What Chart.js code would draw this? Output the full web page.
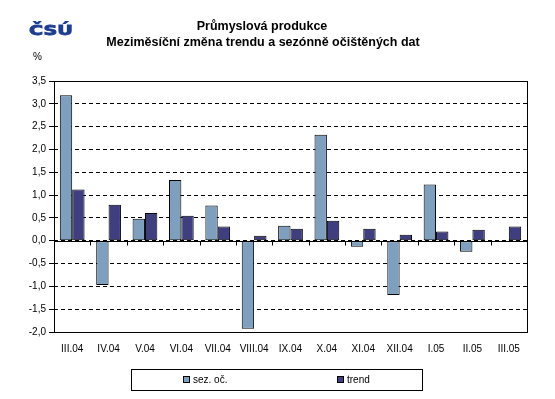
<!DOCTYPE html>
<html>
<head>
<meta charset="utf-8">
<script src="https://cdn.jsdelivr.net/npm/chart.js@4"></script>
<style>
  html, body { margin: 0; padding: 0; background: #fff; }
  #wrap { width: 555px; height: 399px; }
</style>
</head>
<body>
<div id="wrap"><canvas id="graf" width="555" height="399"></canvas></div>
<script>
const mesice = ['III.04', 'IV.04', 'V.04', 'VI.04', 'VII.04', 'VIII.04', 'IX.04', 'X.04', 'XI.04', 'XII.04', 'I.05', 'II.05', 'III.05'];
const sezOc = [3.19, -0.97, 0.48, 1.33, 0.77, -1.93, 0.33, 2.32, -0.13, -1.19, 1.23, -0.24, -0.02];
const trend = [1.12, 0.79, 0.61, 0.55, 0.31, 0.11, 0.26, 0.44, 0.26, 0.13, 0.20, 0.24, 0.31];
const nazvy = ['sez. oč.', 'trend'];
const titulek = ['Průmyslová produkce', 'Meziměsíční změna trendu a sezónně očištěných dat'];

const pismo = '"Liberation Sans", Arial, sans-serif';

// ramecek, nulova osa, popisky a legenda
const kresba = {
  id: 'kresba',
  afterDraw(chart) {
    const ctx = chart.ctx;
    const a = chart.chartArea;
    const x = chart.scales.x;
    const y = chart.scales.y;
    ctx.save();

    // logo
    ctx.fillStyle = '#1f3d8f';
    ctx.strokeStyle = '#1f3d8f';
    ctx.lineWidth = 1;
    ctx.font = 'bold 16px "DejaVu Sans", sans-serif';
    ctx.textBaseline = 'alphabetic';
    ctx.save();
    ctx.translate(29, 35);
    ctx.scale(1.2, 0.85);
    ctx.fillText('ČSÚ', 0, 0);
    ctx.strokeText('ČSÚ', 0, 0);
    ctx.restore();

    // titulek
    ctx.fillStyle = '#000';
    ctx.font = 'bold 12.5px ' + pismo;
    ctx.textAlign = 'center';
    ctx.fillText(titulek[0], 262, 30);
    ctx.fillText(titulek[1], 263, 46);

    ctx.font = '10px ' + pismo;
    ctx.textAlign = 'left';
    ctx.fillText('%', 33, 60);

    // ramecek grafu
    ctx.strokeStyle = '#000';
    ctx.lineWidth = 1;
    ctx.setLineDash([]);
    ctx.strokeRect(Math.round(a.left) + 0.5, Math.round(a.top) + 0.5, Math.round(a.right - a.left), Math.round(a.bottom - a.top));

    // nulova osa s carkami
    const y0 = Math.round(y.getPixelForValue(0)) + 0.5;
    ctx.beginPath();
    ctx.moveTo(a.left, y0);
    ctx.lineTo(a.right, y0);
    for (let i = 1; i < mesice.length; i++) {
      const xp = Math.round(x.getPixelForValue(i - 0.5)) + 0.5;
      ctx.moveTo(xp, y0);
      ctx.lineTo(xp, y0 + 4);
    }
    ctx.stroke();

    // legenda
    ctx.strokeRect(131.5, 369.5, 291, 21);
    const pozice = [183, 337];
    ctx.font = '10px ' + pismo;
    ctx.textBaseline = 'middle';
    chart.data.datasets.forEach((ds, i) => {
      ctx.fillStyle = ds.backgroundColor;
      ctx.fillRect(pozice[i], 376, 6, 6);
      ctx.strokeRect(pozice[i] + 0.5, 376.5, 6, 6);
      ctx.fillStyle = '#000';
      ctx.fillText(ds.label, pozice[i] + 10, 380);
    });
    ctx.restore();
  }
};

new Chart(document.getElementById('graf'), {
  type: 'bar',
  data: {
    labels: mesice,
    datasets: [
      { label: nazvy[0], data: sezOc, backgroundColor: '#7f9fbf', borderColor: '#000', borderWidth: 1, borderSkipped: false },
      { label: nazvy[1], data: trend, backgroundColor: '#3f3f7f', borderColor: '#000', borderWidth: 1, borderSkipped: false }
    ]
  },
  options: {
    responsive: false,
    animation: false,
    devicePixelRatio: 1,
    layout: { padding: { left: 10, right: 28, top: 81, bottom: 37 } },
    datasets: { bar: { categoryPercentage: 0.68, barPercentage: 1 } },
    plugins: { legend: { display: false }, title: { display: false }, tooltip: { enabled: false } },
    scales: {
      x: {
        grid: { display: false, drawTicks: false },
        border: { display: false },
        ticks: { color: '#000', font: { family: pismo, size: 10 }, padding: 11, maxRotation: 0, autoSkip: false },
        afterFit: s => { s.height = 30; }
      },
      y: {
        min: -2,
        max: 3.5,
        grid: { color: '#000', tickLength: 5, tickBorderDash: [], tickColor: '#000' },
        border: { display: false, dash: [4, 3] },
        ticks: {
          stepSize: 0.5,
          color: '#000',
          padding: 3,
          font: { family: pismo, size: 10 },
          callback: v => v.toFixed(1).replace('.', ',')
        },
        afterFit: s => { s.width = 44; }
      }
    }
  },
  plugins: [kresba]
});
</script>
</body>
</html>
